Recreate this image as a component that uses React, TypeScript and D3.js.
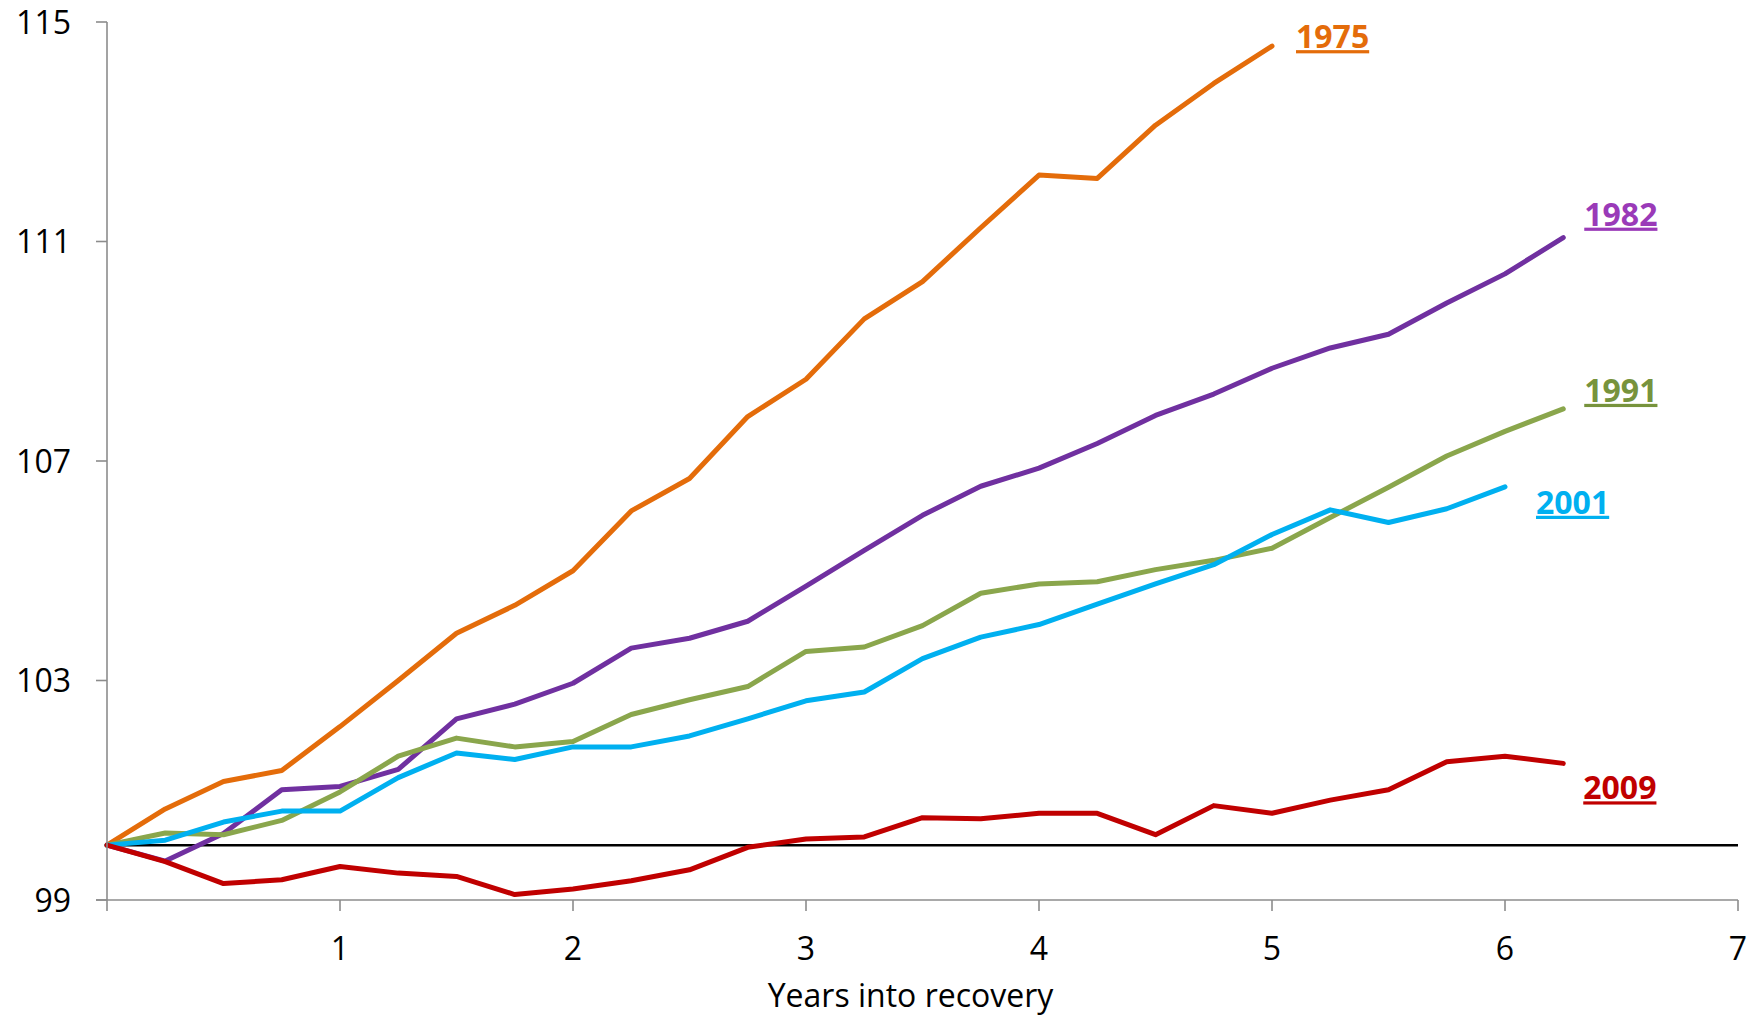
import React from "react";
import * as d3 from "d3";

// Quarterly index values (start of recovery = 100)
const quarters = d3.range(0, 26).map((q) => q / 4);

const s1975 = [100, 100.66, 101.16, 101.36, 102.16, 103.0, 103.86, 104.37, 105.0, 106.09, 106.68, 107.81, 108.49, 109.59, 110.27, 111.25, 112.21, 112.15, 113.12, 113.88, 114.56];
const s1982 = [100, 99.71, 100.21, 101.01, 101.07, 101.38, 102.3, 102.57, 102.95, 103.59, 103.77, 104.08, 104.72, 105.37, 106.01, 106.54, 106.87, 107.32, 107.83, 108.22, 108.69, 109.06, 109.31, 109.88, 110.41, 111.07];
const s1991 = [100, 100.22, 100.19, 100.45, 100.97, 101.62, 101.95, 101.79, 101.89, 102.38, 102.65, 102.89, 103.53, 103.61, 104.0, 104.59, 104.76, 104.8, 105.02, 105.19, 105.41, 105.97, 106.52, 107.09, 107.54, 107.95];
const s2001 = [100, 100.09, 100.42, 100.62, 100.62, 101.23, 101.68, 101.56, 101.79, 101.79, 101.99, 102.3, 102.63, 102.79, 103.4, 103.79, 104.02, 104.39, 104.76, 105.11, 105.66, 106.11, 105.88, 106.13, 106.53];
const s2009 = [100, 99.7, 99.3, 99.37, 99.61, 99.49, 99.43, 99.1, 99.2, 99.35, 99.55, 99.96, 100.11, 100.15, 100.5, 100.48, 100.58, 100.58, 100.19, 100.72, 100.58, 100.82, 101.01, 101.52, 101.62, 101.49];

const seriesNames = ["1975", "1982", "1991", "2001", "2009"];
const seriesValues = [s1975, s1982, s1991, s2001, s2009];

const yTicks = [99, 103, 107, 111, 115];
const xTicks = [1, 2, 3, 4, 5, 6, 7];
const baselineValue = 100;
const xTitle = "Years into recovery";

// styles
const lineColors = ["#E46C0A", "#7030A0", "#8AA64C", "#00B0F0", "#C00000"];
const labelColors = ["#E46C0A", "#9A3AB8", "#77933C", "#00B0F0", "#C00000"];
// label offsets relative to last point (dx, dy to baseline)
const labelOffsets = [
  [24, 2],
  [21, -12],
  [21, -7],
  [31, 27],
  [20, 36],
];

const W = 1759;
const H = 1015;
const FONT = "'Open Sans', 'Noto Sans', sans-serif";
const AXIS = "#8C8C8C";

export default function App() {
  const x = d3.scaleLinear().domain([0, 7]).range([107, 1738]);
  const y = d3.scaleLinear().domain([99, 115]).range([900, 22]);
  const line = d3
    .line<number>()
    .x((_, i) => x(quarters[i]))
    .y((d) => y(d));

  const [x0, x1] = x.range();
  const [yb, yt] = y.range();

  return (
    <svg
      width={W}
      height={H}
      viewBox={`0 0 ${W} ${H}`}
      style={{ position: "absolute", left: 0, top: 0, background: "#fff" }}
      fontFamily={FONT}
    >
      <rect x={0} y={0} width={W} height={H} fill="#fff" />
      {/* baseline at 100 */}
      <line x1={x0} x2={x1} y1={y(baselineValue)} y2={y(baselineValue)} stroke="#000" strokeWidth={2.5} />

      {/* series */}
      {seriesValues.map((vals, i) => (
        <path
          key={seriesNames[i]}
          d={line(vals) || ""}
          fill="none"
          stroke={lineColors[i]}
          strokeWidth={5}
          strokeLinejoin="round"
          strokeLinecap="round"
        />
      ))}

      {/* y axis */}
      <line x1={x0} x2={x0} y1={yt} y2={yb + 11} stroke={AXIS} strokeWidth={1.6} />
      {yTicks.map((t) => (
        <g key={"y" + t}>
          <line x1={x0 - 11} x2={x0} y1={y(t)} y2={y(t)} stroke={AXIS} strokeWidth={1.6} />
          <text x={71} y={y(t) + 11.5} textAnchor="end" fontSize={32} fill="#000">
            {t}
          </text>
        </g>
      ))}

      {/* x axis */}
      <line x1={x0 - 11} x2={x1} y1={yb} y2={yb} stroke={AXIS} strokeWidth={1.6} />
      {xTicks.map((t) => (
        <g key={"x" + t}>
          <line x1={x(t)} x2={x(t)} y1={yb} y2={yb + 11} stroke={AXIS} strokeWidth={1.6} />
          <text x={x(t)} y={yb + 60} textAnchor="middle" fontSize={32} fill="#000">
            {t}
          </text>
        </g>
      ))}
      <text x={x(3.5) - 12} y={yb + 107} textAnchor="middle" fontSize={32} fill="#000">
        {xTitle}
      </text>

      {/* series labels */}
      {seriesValues.map((vals, i) => {
        const last = vals.length - 1;
        return (
          <text
            key={"l" + seriesNames[i]}
            x={x(quarters[last]) + labelOffsets[i][0]}
            y={y(vals[last]) + labelOffsets[i][1]}
            fontSize={32}
            fontWeight="bold"
            fill={labelColors[i]}
            textDecoration="underline"
            style={{ textDecoration: "underline" }}
          >
            {seriesNames[i]}
          </text>
        );
      })}
    </svg>
  );
}
